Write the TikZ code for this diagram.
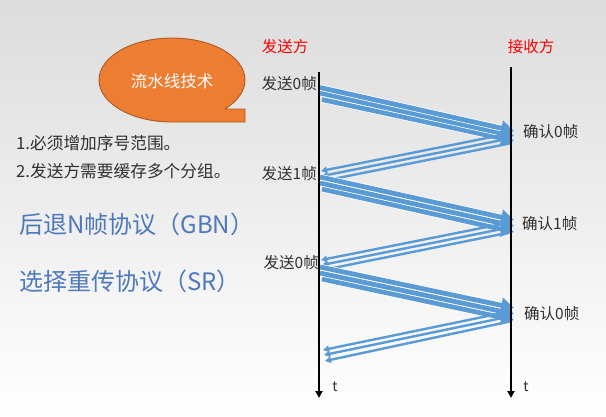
\documentclass[tikz,border=0pt]{standalone}
\usepackage{fontspec}
\setmainfont{Noto Sans CJK SC}
\usetikzlibrary{arrows.meta}
\definecolor{arrblue}{HTML}{5B9BD5}
\definecolor{bubfill}{HTML}{ED7D31}
\definecolor{bubdraw}{HTML}{AE5A21}
\definecolor{txtgray}{HTML}{303030}
\definecolor{protoblue}{HTML}{4D78BC}
\definecolor{bgtop}{HTML}{DCDCDC}
\definecolor{bgmid}{HTML}{F5F5F5}
\begin{document}
\begin{tikzpicture}[x=1pt,y=-1pt,
  lbl/.style={text=txtgray, font=\fontsize{15.5}{18}\selectfont, inner sep=0pt},
  sidelbl/.style={text=red, font=\fontsize{15.5}{18}\selectfont, inner sep=0pt},
  note/.style={text=txtgray, font=\fontsize{16.7}{19}\selectfont, inner sep=0pt, anchor=west},
  proto/.style={text=protoblue, font=\fontsize{24}{27}\selectfont, inner sep=0pt, anchor=west},
  sendarr/.style={draw=arrblue, line width=4.8pt, -{Triangle[length=13pt,width=15pt]},
    preaction={draw=white, line width=6.2pt, -, shorten >=13pt}},
  backarr/.style={draw=arrblue, line width=2.4pt, -{Triangle[length=6pt,width=6.5pt]}},
  timeline/.style={draw=black, line width=2.4pt, -{Triangle[length=7pt,width=7pt]}}]
\useasboundingbox (0,0) rectangle (606,416);
\shade[top color=bgtop, middle color=bgmid, bottom color=white] (0,0) rectangle (606,416);

% speech bubble
\path[fill=bubfill, draw=bubdraw, line width=0.9pt]
  (224.8,109) -- (245,109) -- (245,122) -- (172,122)
  arc[start angle=90, end angle=403.7, x radius=73, y radius=42] -- cycle;
\node[text=white, font=\fontsize{16.5}{18}\selectfont, inner sep=0pt] (bub) at (172,81) {流水线技术};

% left notes
\node[note] (n1) at (16,143) {1.必须增加序号范围。};
\node[note] (n2) at (16,171) {2.发送方需要缓存多个分组。};
\node[proto] (gbn) at (19,224) {后退N帧协议（GBN）};
\node[proto] (sr) at (19,281) {选择重传协议（SR）};

% headers and labels
\node[sidelbl] (sender) at (285,47) {发送方};
\node[sidelbl] (receiver) at (531,47) {接收方};
\node[lbl, anchor=east] (f0) at (317,84) {发送0帧};
\node[lbl, anchor=east] (f1) at (317,174) {发送1帧};
\node[lbl, anchor=east] (f2) at (319,263) {发送0帧};
\node[lbl, anchor=west] (a0) at (523,132) {确认0帧};
\node[lbl, anchor=west] (a1) at (522,224) {确认1帧};
\node[lbl, anchor=west] (a2) at (524,314) {确认0帧};
\node[lbl, font=\fontsize{14}{16}\selectfont] (t1) at (335,387) {t};
\node[lbl, font=\fontsize{14}{16}\selectfont] (t2) at (526,387) {t};

% arrow end points
\coordinate (s1a) at (320,87.5); \coordinate (r1a) at (514,131);
\coordinate (s1b) at (320,93);   \coordinate (r1b) at (514,136);
\coordinate (s1c) at (322,99.5); \coordinate (r1c) at (514,141);
\coordinate (q1a) at (512,133); \coordinate (p1a) at (321,171);
\coordinate (q1b) at (512,138); \coordinate (p1b) at (322,176);
\coordinate (q1c) at (512,143); \coordinate (p1c) at (323,181);
\coordinate (s2a) at (320,177); \coordinate (r2a) at (514,220);
\coordinate (s2b) at (320,183); \coordinate (r2b) at (514,226);
\coordinate (s2c) at (322,189); \coordinate (r2c) at (514,232);
\coordinate (q2a) at (512,222); \coordinate (p2a) at (321,260);
\coordinate (q2b) at (512,227); \coordinate (p2b) at (322,265);
\coordinate (q2c) at (512,232); \coordinate (p2c) at (323,270);
\coordinate (s3a) at (320,267); \coordinate (r3a) at (514,308);
\coordinate (s3b) at (320,273); \coordinate (r3b) at (514,314);
\coordinate (s3c) at (322,279); \coordinate (r3c) at (514,320);
\coordinate (q3a) at (512,311); \coordinate (p3a) at (323,350);
\coordinate (q3b) at (512,316); \coordinate (p3b) at (324,355);
\coordinate (q3c) at (512,321); \coordinate (p3c) at (325,361);

% group 1
\draw[sendarr] (s1c) -- (r1c);
\draw[sendarr] (s1b) -- (r1b);
\draw[sendarr] (s1a) -- (r1a);
\draw[backarr] (q1a) -- (p1a);
\draw[backarr] (q1b) -- (p1b);
\draw[backarr] (q1c) -- (p1c);
% group 2
\draw[sendarr] (s2c) -- (r2c);
\draw[sendarr] (s2b) -- (r2b);
\draw[sendarr] (s2a) -- (r2a);
\draw[backarr] (q2a) -- (p2a);
\draw[backarr] (q2b) -- (p2b);
\draw[backarr] (q2c) -- (p2c);
% group 3
\draw[sendarr] (s3c) -- (r3c);
\draw[sendarr] (s3b) -- (r3b);
\draw[sendarr] (s3a) -- (r3a);
\draw[backarr] (q3a) -- (p3a);
\draw[backarr] (q3b) -- (p3b);
\draw[backarr] (q3c) -- (p3c);

% time lines
\coordinate (sTop) at (319,72); \coordinate (sBot) at (319,398);
\coordinate (rTop) at (511,67); \coordinate (rBot) at (511,398);
\draw[timeline] (sTop) -- (sBot);
\draw[timeline] (rTop) -- (rBot);
\end{tikzpicture}
\end{document}
